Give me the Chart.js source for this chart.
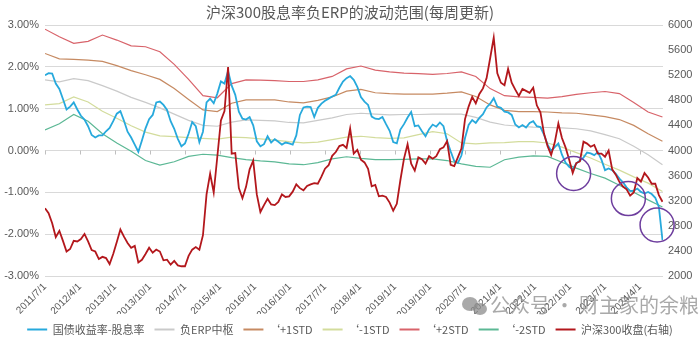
<!DOCTYPE html>
<html>
<head>
<meta charset="utf-8">
<title>沪深300股息率负ERP的波动范围</title>
<script src="https://cdn.jsdelivr.net/npm/chart.js@4.4.1/dist/chart.umd.min.js"></script>
<style>
  html, body { margin: 0; padding: 0; background: #ffffff; }
  #wrap { width: 700px; height: 345px; }
</style>
</head>
<body>
<div id="wrap"><canvas id="erpChart" width="700" height="345"></canvas></div>
<script>
// Date labels on the x axis, one every 39 weeks
const dateLabels = ['2011/7/1', '2012/4/1', '2013/1/1', '2013/10/1', '2014/7/1', '2015/4/1',
                    '2016/1/1', '2016/10/1', '2017/7/1', '2018/4/1', '2019/1/1', '2019/10/1',
                    '2020/7/1', '2021/4/1', '2022/1/1', '2022/10/1', '2023/7/1', '2024/4/1'];
const labelEvery = 39;      // weeks between two date labels
const lastWeek = 688.6;     // right edge of the x axis, in weeks from 2011/7/1

// 国债收益率-股息率 (%), sampled every 4 weeks
const spreadStep = 4;
const spread = [
    1.80, 1.85, 1.84, 1.60, 1.47, 1.23, 0.98, 1.05, 1.15, 0.98,
    0.83, 0.74, 0.58, 0.37, 0.31, 0.36, 0.36, 0.46, 0.54, 0.70,
    0.88, 0.94, 0.71, 0.45, 0.31, 0.14, -0.03, 0.24, 0.53, 0.75,
    0.85, 1.15, 1.17, 1.09, 0.97, 0.70, 0.52, 0.28, 0.10, 0.17,
    0.40, 0.68, 0.58, 0.20, 0.45, 1.15, 1.24, 1.13, 1.36, 1.65,
    1.60, 1.90, 1.55, 1.33, 0.93, 0.76, 0.74, 0.80, 0.60, 0.22,
    0.10, 0.15, 0.34, 0.19, 0.27, 0.21, 0.14, 0.19, 0.17, 0.14,
    0.36, 0.85, 1.03, 1.05, 1.04, 0.80, 1.02, 1.12, 1.19, 1.24,
    1.29, 1.33, 1.50, 1.65, 1.73, 1.78, 1.69, 1.52, 1.28, 1.17,
    1.09, 0.81, 0.76, 0.75, 0.80, 0.63, 0.47, 0.20, 0.17, 0.50,
    0.63, 0.79, 0.92, 0.58, 0.60, 0.46, 0.34, 0.51, 0.62, 0.57,
    0.67, 0.58, 0.23, -0.02, -0.25, -0.30, -0.12, 0.30, 0.61, 0.73,
    0.66, 0.78, 0.87, 1.03, 1.12, 1.25, 1.05, 1.02, 0.93, 0.91,
    0.85, 0.62, 0.55, 0.61, 0.55, 0.66, 0.70, 0.58, 0.56, 0.38,
    0.14, -0.01, 0.08, 0.17, -0.10, -0.29, -0.39, -0.45, -0.31, -0.24,
    -0.17, -0.05, -0.07, -0.11, -0.04, -0.22, -0.47, -0.43, -0.47, -0.56,
    -0.67, -0.76, -0.88, -0.97, -0.96, -0.91, -0.99, -1.03, -0.99, -1.04,
    -1.13, -1.35, -2.14
];

// 沪深300收盘 (right axis), same 4-week sampling
const csi300 = [
    3079, 3000, 2840, 2620, 2720, 2560, 2390, 2430, 2560, 2550,
    2590, 2670, 2550, 2414, 2390, 2270, 2305, 2285, 2190, 2350,
    2540, 2740, 2627, 2525, 2450, 2480, 2215, 2258, 2350, 2450,
    2370, 2420, 2390, 2250, 2260, 2180, 2240, 2170, 2155, 2155,
    2320, 2420, 2460, 2420, 2650, 3300, 3630, 3330, 3900, 4480,
    4630, 5330, 3950, 3960, 3400, 3240, 3420, 3700, 3840, 3300,
    3020, 3130, 3230, 3140, 3130, 3180, 3300, 3260, 3270, 3344,
    3460, 3400, 3365, 3435, 3460, 3480, 3470, 3583, 3710, 3765,
    3915, 3975, 4070, 4090, 4040, 4350, 3950, 4010, 3855, 3810,
    3710, 3430, 3450, 3270, 3280, 3260, 3170, 3040, 3150, 3530,
    3870, 4100, 3790, 3680, 3890, 3860, 3790, 3910, 3870, 3910,
    4020, 4050, 4150, 3770, 3750, 3890, 4030, 4500, 4700, 4855,
    4750, 4900, 4990, 5150, 5470, 5800, 5230, 5080, 5040, 5300,
    5080, 4970, 4870, 4980, 4950, 4920, 5000, 4720, 4610, 4270,
    4070, 3930, 4130, 4430, 4200, 4050, 3855, 3640, 3800, 3825,
    4140, 4110, 4060, 4088, 3950, 3950, 3900, 4000, 3700, 3615,
    3500, 3425, 3380, 3280, 3330, 3560, 3503, 3640, 3570, 3470,
    3470, 3290, 3184
];

// Rolling centre and std bands (%), sampled every 16 weeks
const bandStep = 16;
const centre = [
    1.69, 1.64, 1.72, 1.67, 1.55, 1.42, 1.27, 1.15, 1.02, 0.87,
    0.72, 0.60, 0.58, 0.68, 0.73, 0.72, 0.71, 0.67, 0.66, 0.72,
    0.78, 0.86, 0.89, 0.87, 0.85, 0.86, 0.86, 0.87, 0.87, 0.87,
    0.79, 0.68, 0.61, 0.58, 0.56, 0.55, 0.54, 0.52, 0.47, 0.38,
    0.28, 0.10, -0.10, -0.34
];
const plus1 = [
    2.32, 2.19, 2.18, 2.16, 2.13, 2.03, 1.91, 1.81, 1.70, 1.48,
    1.22, 0.97, 0.93, 1.13, 1.21, 1.21, 1.21, 1.16, 1.14, 1.20,
    1.28, 1.42, 1.46, 1.38, 1.36, 1.35, 1.35, 1.35, 1.37, 1.40,
    1.29, 1.09, 0.96, 0.93, 0.93, 0.92, 0.90, 0.89, 0.85, 0.81,
    0.74, 0.60, 0.40, 0.22
];
const minus1 = [
    1.09, 1.12, 1.28, 1.16, 0.94, 0.77, 0.59, 0.44, 0.35, 0.33,
    0.31, 0.29, 0.27, 0.32, 0.31, 0.28, 0.25, 0.21, 0.18, 0.20,
    0.26, 0.32, 0.34, 0.31, 0.29, 0.30, 0.38, 0.45, 0.40, 0.18,
    0.16, 0.18, 0.19, 0.21, 0.21, 0.18, 0.08, -0.05, -0.18, -0.33,
    -0.47, -0.63, -0.78, -0.98
];
const plus2 = [
    2.90, 2.72, 2.56, 2.61, 2.76, 2.64, 2.50, 2.48, 2.36, 2.06,
    1.70, 1.31, 1.26, 1.60, 1.69, 1.68, 1.67, 1.65, 1.65, 1.69,
    1.77, 1.95, 2.02, 1.92, 1.88, 1.85, 1.84, 1.82, 1.84, 1.88,
    1.77, 1.48, 1.31, 1.28, 1.27, 1.25, 1.29, 1.34, 1.38, 1.41,
    1.36, 1.15, 0.92, 0.80
];
const minus2 = [
    0.49, 0.64, 0.86, 0.70, 0.40, 0.18, -0.02, -0.24, -0.35, -0.27,
    -0.14, -0.09, -0.11, -0.17, -0.22, -0.25, -0.27, -0.32, -0.34, -0.29,
    -0.20, -0.15, -0.19, -0.22, -0.22, -0.21, -0.20, -0.20, -0.24, -0.32,
    -0.38, -0.40, -0.22, -0.16, -0.13, -0.14, -0.28, -0.42, -0.55, -0.66,
    -0.83, -1.00, -1.18, -1.35
];

// Circled troughs near the -2STD band (week, %)
const troughWeeks = [589, 650, 682];
const troughLevels = [-0.55, -1.15, -1.78];

const textColor = '#595959';
const numFont = { family: 'Liberation Sans', size: 11 };
const cjkFont = { family: 'Noto Sans CJK SC', size: 11 };

// turn a sampled array into {x: week, y: value} points
function toPoints(values, step) {
    return values.map((v, i) => ({ x: i * step, y: v }));
}

function lineSet(label, values, step, color, width, order, axis) {
    return {
        label: label,
        data: toPoints(values, step),
        borderColor: color,
        backgroundColor: color,
        borderWidth: width,
        pointRadius: 0,
        tension: 0,
        order: order,
        yAxisID: axis || 'y'
    };
}

// small tick marks on the 0% line plus the account watermark
const extras = {
    id: 'extras',
    beforeDatasetsDraw(chart) {
        const ctx = chart.ctx;
        const xs = chart.scales.x;
        const y0 = chart.scales.y.getPixelForValue(0);
        ctx.save();
        ctx.strokeStyle = '#bfbfbf';
        ctx.lineWidth = 1;
        ctx.beginPath();
        xs.ticks.forEach(t => {
            const px = Math.round(xs.getPixelForValue(t.value)) + 0.5;
            ctx.moveTo(px, y0);
            ctx.lineTo(px, y0 + 4);
        });
        ctx.stroke();
        ctx.restore();
    },
    afterDraw(chart) {
        const ctx = chart.ctx;
        ctx.save();
        ctx.fillStyle = 'rgba(140,140,140,0.75)';
        // chat-bubble icon
        ctx.beginPath();
        ctx.ellipse(470, 304, 8, 7, 0, 0, Math.PI * 2);
        ctx.fill();
        ctx.beginPath();
        ctx.ellipse(480, 309, 7, 6, 0, 0, Math.PI * 2);
        ctx.fill();
        ctx.font = '20px "Noto Sans CJK SC"';
        ctx.textBaseline = 'middle';
        ctx.fillText('公众号 · 财主家的余粮', 490, 305);
        ctx.restore();
    }
};

const ctx = document.getElementById('erpChart').getContext('2d');

const erpChart = new Chart(ctx, {
    type: 'line',
    data: {
        datasets: [
            lineSet('国债收益率-股息率', spread, spreadStep, '#27a9dc', 1.8, 1),
            lineSet('负ERP中枢', centre, bandStep, '#cacaca', 1.2, 2),
            lineSet('\u2018+1STD', plus1, bandStep, '#c68a62', 1.2, 3),
            lineSet('\u2018-1STD', minus1, bandStep, '#d3dc9c', 1.2, 4),
            lineSet('\u2018+2STD', plus2, bandStep, '#d8636a', 1.2, 5),
            lineSet('\u2018-2STD', minus2, bandStep, '#5cb895', 1.2, 6),
            lineSet('沪深300收盘(右轴)', csi300, spreadStep, '#b3171c', 1.8, 0, 'y1'),
            {
                label: 'troughs',
                data: troughWeeks.map((w, i) => ({ x: w, y: troughLevels[i] })),
                showLine: false,
                pointRadius: 17,
                pointBorderWidth: 1.5,
                pointBorderColor: '#6e3e9e',
                pointBackgroundColor: 'rgba(0,0,0,0)',
                clip: false,
                order: -1,
                yAxisID: 'y'
            }
        ]
    },
    options: {
        responsive: false,
        animation: false,
        layout: { padding: 0 },
        plugins: {
            title: {
                display: true,
                text: '沪深300股息率负ERP的波动范围(每周更新)',
                color: textColor,
                font: { family: 'Noto Sans CJK SC', size: 15, weight: 'normal' },
                padding: { top: 3, bottom: 4 }
            },
            legend: {
                position: 'bottom',
                labels: {
                    boxWidth: 20,
                    boxHeight: 2,
                    padding: 10,
                    color: textColor,
                    font: cjkFont,
                    filter: item => item.datasetIndex < 7,
                    sort: (a, b) => a.datasetIndex - b.datasetIndex,
                    generateLabels: chart => {
                        const items = Chart.defaults.plugins.legend.labels.generateLabels(chart);
                        items.forEach(it => { it.fillStyle = it.strokeStyle; it.lineWidth = 0; });
                        return items;
                    }
                }
            },
            tooltip: { enabled: false }
        },
        scales: {
            x: {
                type: 'linear',
                min: 0,
                max: lastWeek,
                afterBuildTicks: scale => {
                    scale.ticks = dateLabels.map((d, i) => ({ value: i * labelEvery }));
                },
                ticks: {
                    autoSkip: false,
                    minRotation: 45,
                    maxRotation: 45,
                    padding: 5,
                    color: textColor,
                    font: { family: 'Liberation Sans', size: 10 },
                    callback: (v, i) => dateLabels[i]
                },
                grid: { display: false, drawTicks: false },
                border: { display: false },
                afterFit: scale => { scale.height = 38; }
            },
            y: {
                position: 'left',
                min: -3,
                max: 3,
                ticks: {
                    stepSize: 1,
                    padding: 6,
                    color: textColor,
                    font: numFont,
                    callback: v => v.toFixed(2) + '%'
                },
                grid: { color: '#d9d9d9', drawTicks: false },
                border: { display: false },
                afterFit: scale => { scale.width = 45; }
            },
            y1: {
                position: 'right',
                min: 2000,
                max: 6000,
                ticks: {
                    stepSize: 400,
                    padding: 5,
                    color: textColor,
                    font: numFont,
                    callback: v => String(v)
                },
                grid: { display: false, drawTicks: false },
                border: { display: false },
                afterFit: scale => { scale.width = 37; }
            }
        }
    },
    plugins: [extras]
});
</script>
</body>
</html>
